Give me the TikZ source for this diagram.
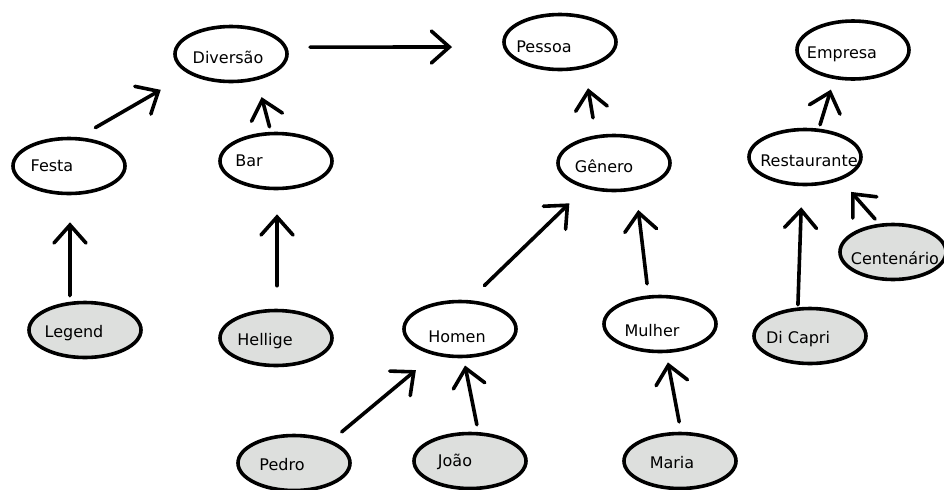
\documentclass[tikz,border=0pt]{standalone}
\usepackage{fontspec}
\setmainfont{DejaVu Sans}
\usetikzlibrary{shapes.geometric,arrows.meta}
\definecolor{instgray}{RGB}{221,223,221}
\begin{document}
\begin{tikzpicture}[x=0.5pt, y=-0.5pt, font=\fontsize{8}{10}\selectfont,
  every node/.style={ellipse, draw, line width=1.8pt, minimum width=56pt, minimum height=27.5pt, inner sep=0pt},
  every label/.style={draw=none, fill=none, minimum size=0pt, inner sep=0pt},
  inst/.style={fill=instgray},
  isa/.style={line width=1.8pt, line cap=round, -{Straight Barb[length=9pt, width=16pt, line cap=round]}}]
  \clip (0,0) rectangle (944,489);
  % Classes
  \node (diversao) at (231,54) [label={[xshift=-1.5pt, yshift=-1.5pt]center:Diversão}] {};
  \node (festa) at (69,166) [label={[xshift=-8.5pt]center:Festa}] {};
  \node (bar) at (276,161) [label={[xshift=-13.5pt]center:Bar}] {};
  \node (pessoa) at (560,42) [label={[xshift=-8pt, yshift=-2.5pt]center:Pessoa}] {};
  \node (genero) at (614,163) [label={[xshift=-5pt, yshift=-1.5pt]center:Gênero}] {};
  \node (homen) at (460,329) [label={[xshift=-1.5pt, yshift=-4pt]center:Homen}] {};
  \node (mulher) at (660,324) [label={[xshift=-4pt, yshift=-3.5pt]center:Mulher}] {};
  \node (empresa) at (853,50) [minimum height=29pt, label={[xshift=-5.5pt, yshift=-2pt]center:Empresa}] {};
  \node (restaurante) at (805,157) [label={[xshift=2pt, yshift=-2pt]center:Restaurante}] {};
  % Instances
  \node[inst] (legend) at (85,330) [label={[xshift=-5.5pt, yshift=-1.5pt]center:Legend}] {};
  \node[inst] (hellige) at (276,338) [label={[xshift=-5.5pt, yshift=-1.5pt]center:Hellige}] {};
  \node[inst] (pedro) at (294,463) [label={[xshift=-6pt, yshift=-1pt]center:Pedro}] {};
  \node[inst] (joao) at (470,461) [label={[xshift=-7.5pt, yshift=-0.5pt]center:João}] {};
  \node[inst] (maria) at (680,461) [label={[xshift=-4pt, yshift=-1pt]center:Maria}] {};
  \node[inst] (dicapri) at (810,336) [label={[xshift=-6pt, yshift=-1.5pt]center:Di Capri}] {};
  \node[inst, minimum width=53pt] (centenario) at (893,252) [label={[xshift=1pt, yshift=-3pt]center:Centenário}] {};
  % Arrows
  \draw[isa, shorten <=9.5pt, shorten >=16pt] (festa.71) -- (diversao.205);
  \draw[isa, shorten <=2.6pt, shorten >=8.8pt] (bar.100) -- (diversao.-45);
  \draw[isa, shorten <=11.4pt, shorten >=25.5pt] (diversao.7) -- (pessoa.185);
  \draw[isa, shorten <=3pt, shorten >=13.5pt] (legend.118) -- (festa.-88);
  \draw[isa, shorten <=11.5pt, shorten >=12pt] (hellige.88) -- (bar.-88);
  \draw[isa, shorten <=8.8pt, shorten >=10pt] (genero.123) -- (pessoa.-47);
  \draw[isa, shorten <=10.5pt, shorten >=10.8pt] (homen.72) -- (genero.221);
  \draw[isa, shorten <=5.8pt, shorten >=10pt] (mulher.112) -- (genero.-51);
  \draw[isa, shorten <=2pt, shorten >=5.5pt] (restaurante.64) -- (empresa.237);
  \draw[isa, shorten <=1.3pt, shorten >=10.5pt] (dicapri.113) -- (restaurante.-96);
  \draw[isa, shorten <=3.1pt, shorten >=7.9pt] (centenario.116) -- (restaurante.-33);
  \draw[isa, shorten <=6.8pt, shorten >=11.7pt] (pedro.31) -- (homen.225);
  \draw[isa, shorten <=3.7pt, shorten >=3.7pt] (joao.74) -- (homen.-83);
  \draw[isa, shorten <=5pt, shorten >=4.7pt] (maria.88) -- (mulher.-78);
\end{tikzpicture}
\end{document}
